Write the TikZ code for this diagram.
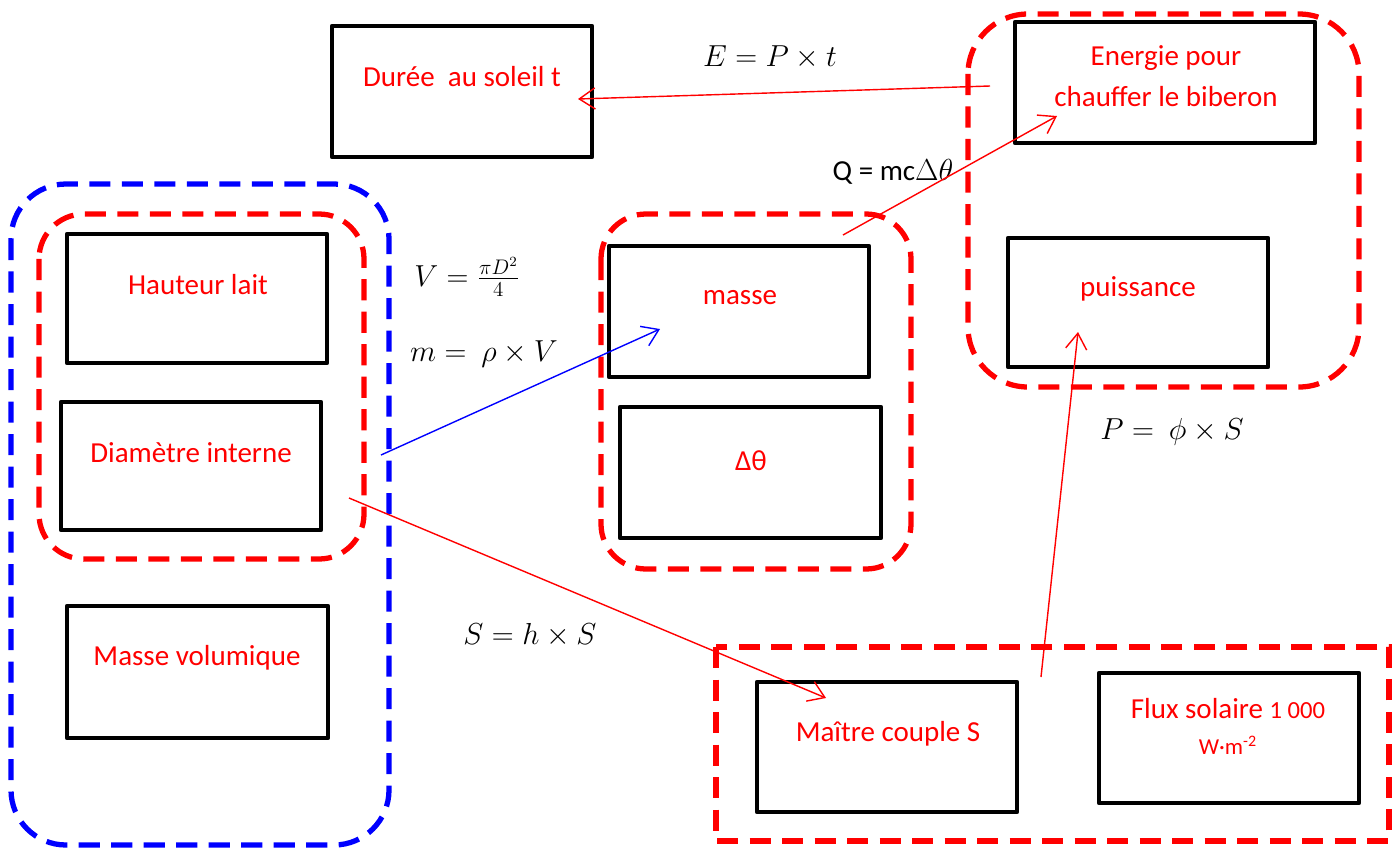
\documentclass[tikz,border=0pt]{standalone}
\usepackage{fontspec}
\setmainfont{Carlito}
\usetikzlibrary{arrows.meta}
\tikzset{
  boite/.style={line width=2.6pt,black,line join=round},
  groupe/.style={line width=3pt,dash pattern=on 12pt off 6.5pt},
  lien/.style={line width=0.8pt,-{Straight Barb[length=9pt,width=12pt]}},
  etiq/.style={red,font=\fontsize{16.5}{23.5}\selectfont,align=center},
  formule/.style={black,font=\fontsize{16.5}{20}\selectfont},
}
\begin{document}
\begin{tikzpicture}[x=0.02cm,y=-0.02cm]
		\useasboundingbox (0,0) rectangle (1397,849);
		%
		% dashed groups
		\draw[groupe,blue,rounded corners=1.1cm] (11,184) rectangle (389,845);
		\draw[groupe,red,rounded corners=0.9cm] (39,214) rectangle (364,559);
		\draw[groupe,red,rounded corners=0.9cm] (601,214) rectangle (911,569);
		\draw[groupe,red,rounded corners=1.2cm] (968,14) rectangle (1359,387);
		\draw[groupe,red] (716,647) rectangle (1389,841);
		%
		% boxes
		\draw[boite] (332,26) rectangle (592,157);
		\draw[boite] (1015,22) rectangle (1315,143);
		\draw[boite] (1008,238) rectangle (1268,367);
		\draw[boite] (67,234) rectangle (327,363);
		\draw[boite] (61,402) rectangle (321,530);
		\draw[boite] (67,606) rectangle (328,738);
		\draw[boite] (609,246) rectangle (869,377);
		\draw[boite] (620,407) rectangle (881,538);
		\draw[boite] (757,682) rectangle (1017,812);
		\draw[boite] (1099,673) rectangle (1359,803);
		%
		\node[etiq] (tduree) at (462,77) {Durée~ au soleil t};
		\node[etiq] (tenergie) at (1166,76) {Energie pour\\chauffer le biberon};
		\node[etiq] (tpuiss) at (1138,289) {puissance};
		\node[etiq] (thaut) at (198,285) {Hauteur lait};
		\node[etiq] (tdiam) at (191,453) {Diamètre interne};
		\node[etiq] (tmvol) at (197,658) {Masse volumique};
		\node[etiq] (tmasse) at (740,298) {masse};
		\node[etiq] (tdelta) at (751,461) {Δθ};
		\node[etiq] (tmaitre) at (888,734) {Maître couple S};
		\node[etiq] (tflux) at (1228,726) {Flux solaire {\fontsize{14}{16}\selectfont 1 000}\\[-3pt]{\fontsize{13}{16}\selectfont W·m\textsuperscript{-2}}};
		%
		\node[formule] (fe) at (770,57) {$E = P \times t$};
		\node[formule] (fq) at (893,172) {Q = mc$\Delta\theta$};
		\node[formule] (fv) at (467,277) {$V = \frac{\pi D^2}{4}$};
		\node[formule] (fm) at (484,354) {$m = \ \rho \times V$};
		\node[formule] (fp) at (1172,432) {$P = \ \phi \times S$};
		\node[formule] (fs) at (530,635) {$S = h \times S$};
		%
		% arrow ends
		\coordinate (e1) at (990,86);   \coordinate (d1) at (578,99);
		\coordinate (e2) at (843,235);  \coordinate (d2) at (1057,116);
		\coordinate (e3) at (381,455);  \coordinate (d3) at (660,329);
		\coordinate (e4) at (349,498);  \coordinate (d4) at (826,698);
		\coordinate (e5) at (1041,677); \coordinate (d5) at (1078,332);
		\draw[lien,red] (e1) -- (d1);
		\draw[lien,red] (e2) -- (d2);
		\draw[lien,blue] (e3) -- (d3);
		\draw[lien,red] (e4) -- (d4);
		\draw[lien,red] (e5) -- (d5);
		\end{tikzpicture}
\end{document}
